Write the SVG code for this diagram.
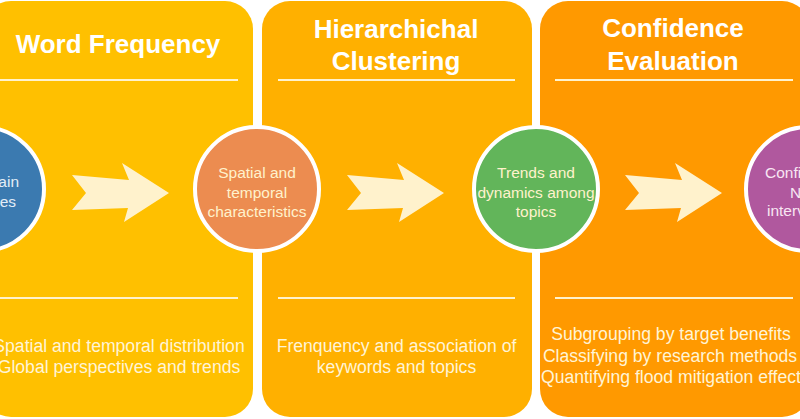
<svg xmlns="http://www.w3.org/2000/svg" width="800" height="419" viewBox="0 0 800 419">
<style>
.title{font-family:"Liberation Sans",Arial,sans-serif;font-weight:bold;font-size:26px;fill:#FFFFFF;text-anchor:middle}
.body{font-family:"Liberation Sans",Arial,sans-serif;font-size:17.6px;fill:#FFF4D6;text-anchor:middle}
.ctext{font-family:"Liberation Sans",Arial,sans-serif;font-size:15.5px;fill:#FFF2CC;text-anchor:middle}
.rule{stroke:#FFF2CC;stroke-width:2}
.circ{stroke:#FFFFFF;stroke-width:4}
.arrow{fill:#FFF2CC}
</style>
<defs>
<polygon id="arr" points="0,175 57,180 50,163 97,193 52,222 56,208 0,210 14,193"/>
</defs>
<rect width="800" height="419" fill="#FFFFFF"/>

<g id="panel-word-frequency">
<rect x="-17" y="1" width="270" height="416" rx="28" fill="#FFC000"/>
<text class="title" x="118" y="53">Word Frequency</text>
<line class="rule" x1="0" y1="80" x2="238" y2="80"/>
<line class="rule" x1="0" y1="298" x2="238" y2="298"/>
<text class="body" x="119" y="352">Spatial and temporal distribution</text>
<text class="body" x="119" y="373">Global perspectives and trends</text>
</g>

<g id="panel-hierarchical-clustering">
<rect x="262" y="1" width="270" height="416" rx="28" fill="#FFB000"/>
<text class="title" x="396" y="38">Hierarchichal</text>
<text class="title" x="396" y="70">Clustering</text>
<line class="rule" x1="278" y1="80" x2="515" y2="80"/>
<line class="rule" x1="278" y1="298" x2="515" y2="298"/>
<text class="body" x="396.5" y="352">Frenquency and association of</text>
<text class="body" x="396.5" y="373">keywords and topics</text>
</g>

<g id="panel-confidence-evaluation">
<rect x="540" y="1" width="270" height="416" rx="28" fill="#FF9900"/>
<text class="title" x="673" y="37">Confidence</text>
<text class="title" x="673" y="70">Evaluation</text>
<line class="rule" x1="555" y1="80" x2="793" y2="80"/>
<line class="rule" x1="555" y1="298" x2="793" y2="298"/>
<text class="body" x="671" y="340">Subgrouping by target benefits</text>
<text class="body" x="670" y="362">Classifying by research methods</text>
<text class="body" x="671" y="383">Quantifying flood mitigation effect</text>
</g>

<g id="connectors">
<use href="#arr" class="arrow" x="72"/>
<use href="#arr" class="arrow" x="347"/>
<use href="#arr" class="arrow" x="625"/>
</g>

<g id="node-main-themes">
<circle class="circ" cx="-18" cy="189" r="62" fill="#3B7AB0"/>
<text class="ctext" x="19" y="187" style="text-anchor:end;fill:#E3EDF7">ain</text>
<text class="ctext" x="16" y="207" style="text-anchor:end;fill:#E3EDF7">es</text>
</g>

<g id="node-spatial-temporal">
<circle class="circ" cx="257" cy="189" r="62" fill="#EC8C50"/>
<text class="ctext" x="257" y="178">Spatial and</text>
<text class="ctext" x="257" y="197.5">temporal</text>
<text class="ctext" x="257" y="217">characteristics</text>
</g>

<g id="node-trends-dynamics">
<circle class="circ" cx="536" cy="189" r="62" fill="#62B55A"/>
<text class="ctext" x="536" y="178">Trends and</text>
<text class="ctext" x="536" y="197.5">dynamics among</text>
<text class="ctext" x="536" y="217">topics</text>
</g>

<g id="node-confidence-intervals">
<circle class="circ" cx="808" cy="189" r="62" fill="#B0589E"/>
<text class="ctext" x="765" y="178" style="text-anchor:start;fill:#F8E6F3">Confi</text>
<text class="ctext" x="790" y="197.5" style="text-anchor:start;fill:#F8E6F3">N</text>
<text class="ctext" x="767" y="216" style="text-anchor:start;fill:#F8E6F3">interv</text>
</g>
</svg>
